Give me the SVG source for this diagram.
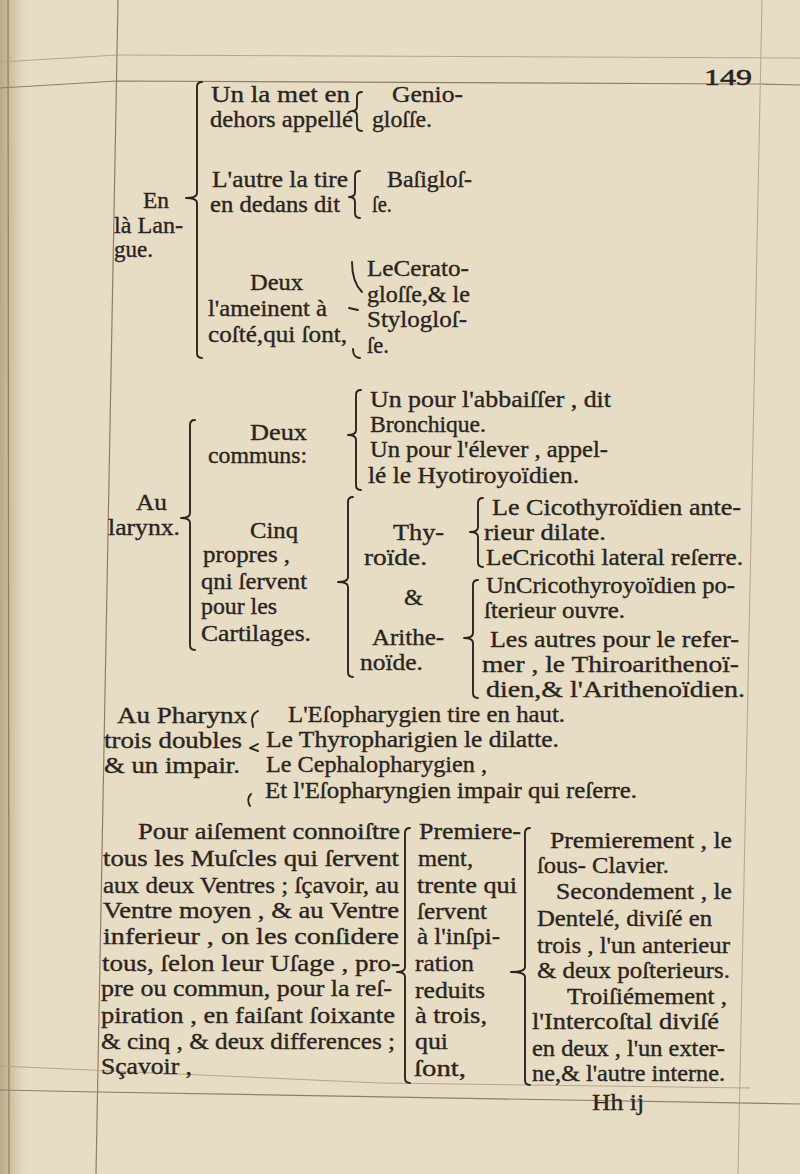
<svg xmlns="http://www.w3.org/2000/svg" width="800" height="1174" viewBox="0 0 800 1174">
<defs>
<linearGradient id="gut" x1="0" x2="1" y1="0" y2="0">
<stop offset="0" stop-color="#b9a989"/>
<stop offset="0.5" stop-color="#d6c9aa"/>
<stop offset="1" stop-color="#e7ddc4" stop-opacity="0"/>
</linearGradient>
<style>
.t{font-family:"Liberation Serif","DejaVu Serif",serif;font-size:23px;fill:#2a241e;stroke:#2a241e;stroke-width:0.35}
.pn{font-family:"Liberation Serif","DejaVu Serif",serif;font-size:24px;fill:#2a241e;stroke:#2a241e;stroke-width:0.5}
.br{fill:none;stroke:#2a241e;stroke-width:1.9;stroke-linecap:round;stroke-linejoin:round}
.rule{fill:none;stroke:#8c7f69;stroke-width:1.2}
.faint{fill:none;stroke:#b3a68c;stroke-width:1}
</style>
</defs>
<g id="page">
<rect x="0" y="0" width="800" height="1174" fill="#e7ddc4"/>
<rect x="0" y="0" width="30" height="1174" fill="url(#gut)"/>
<path class="rule" d="M8,0 L9,1174" stroke="#7d6c50"/>
<path class="faint" d="M0,62 L117,55 L800,58"/>
<path class="rule" d="M0,88 L117,81 L760,84 L800,85"/>
<path class="rule" d="M118,0 L96,1174"/>
<path class="faint" d="M762,0 L738,1174"/>
<path class="faint" d="M0,1066 L380,1083 L750,1088"/>
<path class="rule" d="M0,1090 L97,1092 L800,1104"/>
</g>
<g id="page-number"><text class="pn" x="704" y="85" textLength="48" lengthAdjust="spacingAndGlyphs">149</text></g>
<g id="langue">
<text class="t" x="143" y="208" textLength="26" lengthAdjust="spacingAndGlyphs">En</text>
<text class="t" x="114" y="233" textLength="69" lengthAdjust="spacingAndGlyphs">là Lan-</text>
<text class="t" x="114" y="257" textLength="39" lengthAdjust="spacingAndGlyphs">gue.</text>
</g>
<g id="genioglosse">
<text class="t" x="211" y="102" textLength="139" lengthAdjust="spacingAndGlyphs">Un la met en</text>
<text class="t" x="210" y="127" textLength="143" lengthAdjust="spacingAndGlyphs">dehors appellé</text>
<text class="t" x="392" y="102" textLength="71" lengthAdjust="spacingAndGlyphs">Genio-</text>
<text class="t" x="372" y="127" textLength="60" lengthAdjust="spacingAndGlyphs">gloſſe.</text>
</g>
<g id="basiglosse">
<text class="t" x="212" y="187" textLength="136" lengthAdjust="spacingAndGlyphs">L'autre la tire</text>
<text class="t" x="210" y="212" textLength="130" lengthAdjust="spacingAndGlyphs">en dedans dit</text>
<text class="t" x="387" y="187" textLength="85" lengthAdjust="spacingAndGlyphs">Baſigloſ-</text>
<text class="t" x="372" y="212" textLength="20" lengthAdjust="spacingAndGlyphs">ſe.</text>
</g>
<g id="cote">
<text class="t" x="250" y="290" textLength="53" lengthAdjust="spacingAndGlyphs">Deux</text>
<text class="t" x="208" y="316" textLength="119" lengthAdjust="spacingAndGlyphs">l'ameinent à</text>
<text class="t" x="208" y="342" textLength="139" lengthAdjust="spacingAndGlyphs">coſté,qui ſont,</text>
<text class="t" x="367" y="276" textLength="102" lengthAdjust="spacingAndGlyphs">LeCerato-</text>
<text class="t" x="367" y="302" textLength="103" lengthAdjust="spacingAndGlyphs">gloſſe,&amp; le</text>
<text class="t" x="367" y="327" textLength="100" lengthAdjust="spacingAndGlyphs">Stylogloſ-</text>
<text class="t" x="367" y="353" textLength="22" lengthAdjust="spacingAndGlyphs">ſe.</text>
</g>
<g id="larynx">
<text class="t" x="136" y="510" textLength="31" lengthAdjust="spacingAndGlyphs">Au</text>
<text class="t" x="108" y="535" textLength="72" lengthAdjust="spacingAndGlyphs">larynx.</text>
</g>
<g id="communs">
<text class="t" x="250" y="440" textLength="57" lengthAdjust="spacingAndGlyphs">Deux</text>
<text class="t" x="208" y="463" textLength="99" lengthAdjust="spacingAndGlyphs">communs:</text>
<text class="t" x="370" y="407" textLength="241" lengthAdjust="spacingAndGlyphs">Un pour l'abbaiſſer , dit</text>
<text class="t" x="370" y="432" textLength="116" lengthAdjust="spacingAndGlyphs">Bronchique.</text>
<text class="t" x="370" y="457" textLength="238" lengthAdjust="spacingAndGlyphs">Un pour l'élever , appel-</text>
<text class="t" x="368" y="483" textLength="211" lengthAdjust="spacingAndGlyphs">lé le Hyotiroyoïdien.</text>
</g>
<g id="propres">
<text class="t" x="250" y="538" textLength="48" lengthAdjust="spacingAndGlyphs">Cinq</text>
<text class="t" x="203" y="562" textLength="87" lengthAdjust="spacingAndGlyphs">propres ,</text>
<text class="t" x="201" y="589" textLength="106" lengthAdjust="spacingAndGlyphs">qni ſervent</text>
<text class="t" x="201" y="614" textLength="76" lengthAdjust="spacingAndGlyphs">pour les</text>
<text class="t" x="201" y="641" textLength="110" lengthAdjust="spacingAndGlyphs">Cartilages.</text>
</g>
<g id="cartilages">
<text class="t" x="393" y="540" textLength="51" lengthAdjust="spacingAndGlyphs">Thy-</text>
<text class="t" x="364" y="565" textLength="63" lengthAdjust="spacingAndGlyphs">roïde.</text>
<text class="t" x="404" y="605" textLength="19" lengthAdjust="spacingAndGlyphs">&amp;</text>
<text class="t" x="372" y="645" textLength="72" lengthAdjust="spacingAndGlyphs">Arithe-</text>
<text class="t" x="360" y="670" textLength="63" lengthAdjust="spacingAndGlyphs">noïde.</text>
</g>
<g id="thyroide">
<text class="t" x="492" y="515" textLength="249" lengthAdjust="spacingAndGlyphs">Le Cicothyroïdien ante-</text>
<text class="t" x="484" y="540" textLength="122" lengthAdjust="spacingAndGlyphs">rieur dilate.</text>
<text class="t" x="486" y="565" textLength="257" lengthAdjust="spacingAndGlyphs">LeCricothi lateral reſerre.</text>
</g>
<g id="arithenoide">
<text class="t" x="486" y="593" textLength="249" lengthAdjust="spacingAndGlyphs">UnCricothyroyoïdien po-</text>
<text class="t" x="484" y="618" textLength="141" lengthAdjust="spacingAndGlyphs">ſterieur ouvre.</text>
<text class="t" x="490" y="647" textLength="249" lengthAdjust="spacingAndGlyphs">Les autres pour le refer-</text>
<text class="t" x="482" y="672" textLength="257" lengthAdjust="spacingAndGlyphs">mer , le Thiroarithenoï-</text>
<text class="t" x="486" y="697" textLength="259" lengthAdjust="spacingAndGlyphs">dien,&amp; l'Arithenoïdien.</text>
</g>
<g id="pharynx">
<text class="t" x="117" y="723" textLength="130" lengthAdjust="spacingAndGlyphs">Au Pharynx</text>
<text class="t" x="104" y="748" textLength="138" lengthAdjust="spacingAndGlyphs">trois doubles</text>
<text class="t" x="104" y="773" textLength="136" lengthAdjust="spacingAndGlyphs">&amp; un impair.</text>
</g>
<g id="pharynx-muscles">
<text class="t" x="288" y="722" textLength="277" lengthAdjust="spacingAndGlyphs">L'Eſopharygien tire en haut.</text>
<text class="t" x="266" y="747" textLength="293" lengthAdjust="spacingAndGlyphs">Le Thyropharigien le dilatte.</text>
<text class="t" x="266" y="772" textLength="221" lengthAdjust="spacingAndGlyphs">Le Cephalopharygien ,</text>
<text class="t" x="265" y="798" textLength="372" lengthAdjust="spacingAndGlyphs">Et l'Eſopharyngien impair qui reſerre.</text>
</g>
<g id="respiration">
<text class="t" x="138" y="839" textLength="262" lengthAdjust="spacingAndGlyphs">Pour aiſement connoiſtre</text>
<text class="t" x="103" y="866" textLength="296" lengthAdjust="spacingAndGlyphs">tous les Muſcles qui ſervent</text>
<text class="t" x="103" y="893" textLength="296" lengthAdjust="spacingAndGlyphs">aux deux Ventres ; ſçavoir, au</text>
<text class="t" x="103" y="918" textLength="296" lengthAdjust="spacingAndGlyphs">Ventre moyen , &amp; au Ventre</text>
<text class="t" x="103" y="944" textLength="296" lengthAdjust="spacingAndGlyphs">inferieur , on les conſidere</text>
<text class="t" x="102" y="971" textLength="298" lengthAdjust="spacingAndGlyphs">tous, ſelon leur Uſage , pro-</text>
<text class="t" x="101" y="996" textLength="291" lengthAdjust="spacingAndGlyphs">pre ou commun, pour la reſ-</text>
<text class="t" x="101" y="1023" textLength="294" lengthAdjust="spacingAndGlyphs">piration , en faiſant ſoixante</text>
<text class="t" x="101" y="1049" textLength="294" lengthAdjust="spacingAndGlyphs">&amp; cinq , &amp; deux differences ;</text>
<text class="t" x="101" y="1074" textLength="91" lengthAdjust="spacingAndGlyphs">Sçavoir ,</text>
</g>
<g id="trente">
<text class="t" x="419" y="839" textLength="102" lengthAdjust="spacingAndGlyphs">Premiere-</text>
<text class="t" x="418" y="866" textLength="55" lengthAdjust="spacingAndGlyphs">ment,</text>
<text class="t" x="417" y="893" textLength="100" lengthAdjust="spacingAndGlyphs">trente qui</text>
<text class="t" x="417" y="919" textLength="70" lengthAdjust="spacingAndGlyphs">ſervent</text>
<text class="t" x="417" y="944" textLength="83" lengthAdjust="spacingAndGlyphs">à l'inſpi-</text>
<text class="t" x="415" y="971" textLength="59" lengthAdjust="spacingAndGlyphs">ration</text>
<text class="t" x="415" y="998" textLength="70" lengthAdjust="spacingAndGlyphs">reduits</text>
<text class="t" x="415" y="1023" textLength="72" lengthAdjust="spacingAndGlyphs">à trois,</text>
<text class="t" x="415" y="1049" textLength="33" lengthAdjust="spacingAndGlyphs">qui</text>
<text class="t" x="414" y="1076" textLength="52" lengthAdjust="spacingAndGlyphs">ſont,</text>
</g>
<g id="trois-muscles">
<text class="t" x="550" y="848" textLength="182" lengthAdjust="spacingAndGlyphs">Premierement , le</text>
<text class="t" x="537" y="873" textLength="132" lengthAdjust="spacingAndGlyphs">ſous- Clavier.</text>
<text class="t" x="556" y="899" textLength="176" lengthAdjust="spacingAndGlyphs">Secondement , le</text>
<text class="t" x="537" y="926" textLength="175" lengthAdjust="spacingAndGlyphs">Dentelé, diviſé en</text>
<text class="t" x="537" y="953" textLength="193" lengthAdjust="spacingAndGlyphs">trois , l'un anterieur</text>
<text class="t" x="537" y="978" textLength="193" lengthAdjust="spacingAndGlyphs">&amp; deux poſterieurs.</text>
<text class="t" x="567" y="1004" textLength="160" lengthAdjust="spacingAndGlyphs">Troiſiémement ,</text>
<text class="t" x="532" y="1029" textLength="187" lengthAdjust="spacingAndGlyphs">l'Intercoſtal diviſé</text>
<text class="t" x="532" y="1056" textLength="193" lengthAdjust="spacingAndGlyphs">en deux , l'un exter-</text>
<text class="t" x="532" y="1081" textLength="193" lengthAdjust="spacingAndGlyphs">ne,&amp; l'autre interne.</text>
</g>
<g id="signature"><text class="t" x="592" y="1110" textLength="52" lengthAdjust="spacingAndGlyphs">Hh ij</text></g>
<g id="connectors">
<path class="br" d="M202,82 Q197,82 197,87 L197,193 Q197,198 186,198 Q197,198 197,203 L197,353 Q197,358 202,358"/>
<path class="br" d="M362,92 Q357,92 357,97 L357,106 Q357,111 352,111 Q357,111 357,116 L357,126 Q357,131 362,131"/>
<path class="br" d="M360,171 Q355,171 355,176 L355,192 Q355,197 349,197 Q355,197 355,202 L355,213 Q355,218 360,218"/>
<path class="br" d="M352,262 Q352,282 362,292"/>
<path class="br" d="M349,308 L358,310"/>
<path class="br" d="M353,349 Q353,358 360,358"/>
<path class="br" d="M195,420 Q190,420 190,425 L190,513 Q190,518 181,518 Q190,518 190,523 L190,645 Q190,650 195,650"/>
<path class="br" d="M361,390 Q356,390 356,395 L356,430 Q356,435 348,435 Q356,435 356,440 L356,485 Q356,490 361,490"/>
<path class="br" d="M353,497 Q348,497 348,502 L348,577 Q348,582 338,582 Q348,582 348,587 L348,672 Q348,677 353,677"/>
<path class="br" d="M483,498 Q478,498 478,503 L478,527 Q478,532 470,532 Q478,532 478,537 L478,562 Q478,567 483,567"/>
<path class="br" d="M478,580 Q473,580 473,585 L473,633 Q473,638 464,638 Q473,638 473,643 L473,693 Q473,698 478,698"/>
<path class="br" d="M258,711 Q252,714 252,720 L253,727"/>
<path class="br" d="M258,744 L250,748 L258,751"/>
<path class="br" d="M251,794 Q246,799 250,806"/>
<path class="br" d="M410,828 Q405,828 405,833 L405,967 Q405,972 397,972 Q405,972 405,977 L405,1078 Q405,1083 410,1083"/>
<path class="br" d="M530,828 Q525,828 525,833 L525,967 Q525,972 511,972 Q525,972 525,977 L525,1080 Q525,1085 530,1085"/>
</g>
</svg>
